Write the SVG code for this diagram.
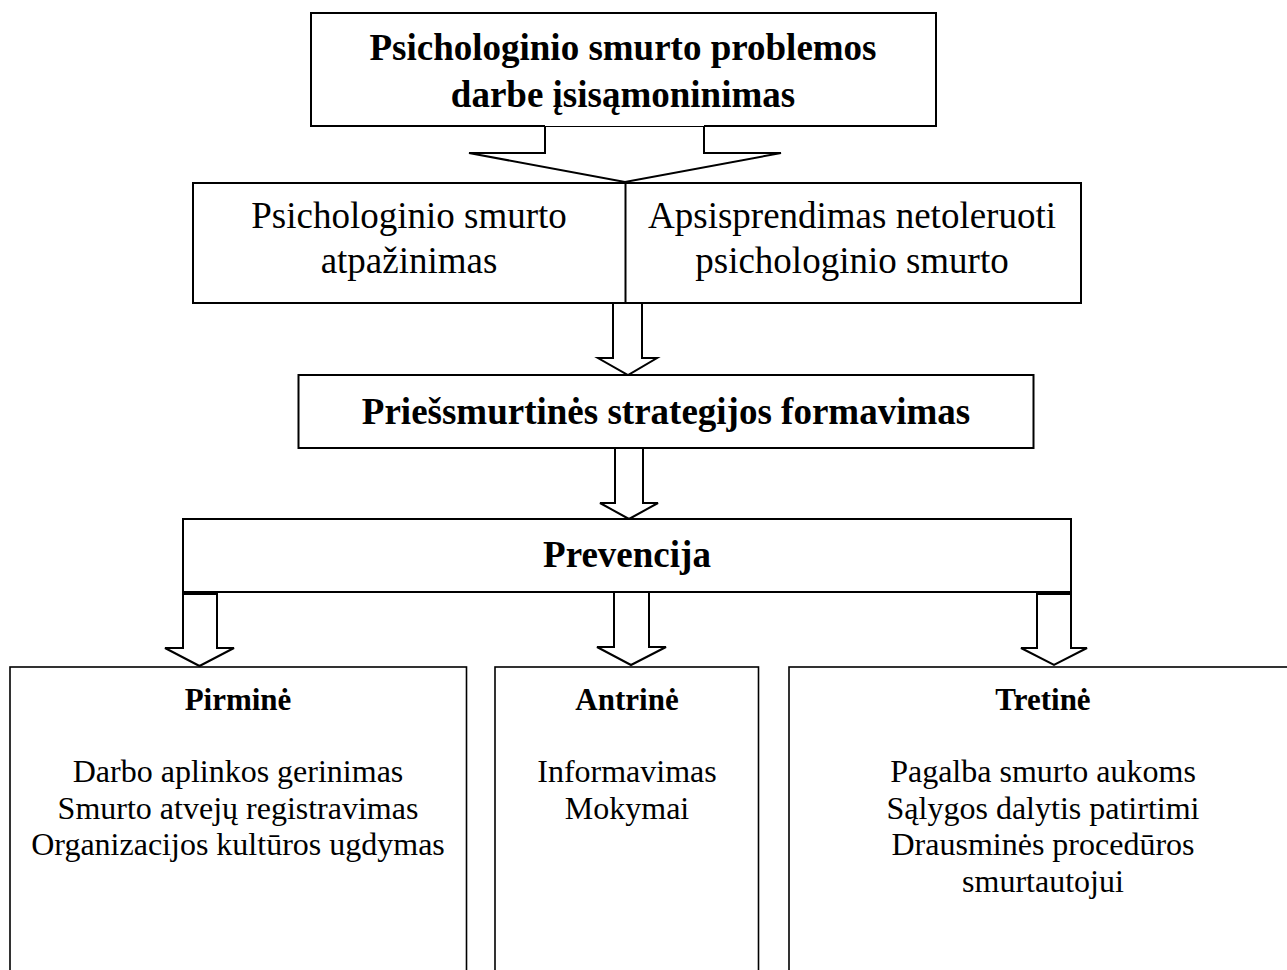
<svg xmlns="http://www.w3.org/2000/svg" width="1287" height="970" viewBox="0 0 1287 970">
<style>
.box{fill:#fff;stroke:#000;stroke-width:2}
.thin{fill:#fff;stroke:#000;stroke-width:1.6}
.arr{fill:#fff;stroke:#000;stroke-width:2;stroke-linejoin:miter}
.b{font-family:"Liberation Serif","Times New Roman",serif;font-weight:bold;font-size:37px;fill:#000;text-anchor:middle}
.r{font-family:"Liberation Serif","Times New Roman",serif;font-size:37px;fill:#000;text-anchor:middle}
.h{font-family:"Liberation Serif","Times New Roman",serif;font-weight:bold;font-size:31px;fill:#000;text-anchor:middle}
.t{font-family:"Liberation Serif","Times New Roman",serif;font-size:32px;fill:#000;text-anchor:middle}
</style>
<rect width="1287" height="970" fill="#fff"/>
<g id="connectors">
<polygon class="arr" points="545,126 545,153 469,153 625,182 781,153 704,153 704,126"/>
<polygon class="arr" points="613,303 613,358 598,358 628,375 657,358 642,358 642,303"/>
<polygon class="arr" points="615,448 615,503 600,503 629,519 658,503 643,503 643,448"/>
<polygon class="arr" points="183,592 183,648 165,648 199.5,666 234,648 217,648 217,592"/>
<polygon class="arr" points="614,592 614,647 597,647 631,665 666,647 649,647 649,592"/>
<polygon class="arr" points="1037,592 1037,648 1021,648 1054,665 1087,648 1071,648 1071,592"/>
</g>
<g id="n-top">
<path class="box" d="M545,126 L311,126 L311,13 L936,13 L936,126 L704,126"/>
<text class="b" x="623" y="60">Psichologinio smurto problemos</text>
<text class="b" x="623" y="107">darbe įsisąmoninimas</text>
</g>
<g id="n-middle">
<rect class="box" x="193" y="183" width="888" height="120"/>
<line x1="625.5" y1="183" x2="625.5" y2="303" stroke="#000" stroke-width="2"/>
<text class="r" x="409" y="228">Psichologinio smurto</text>
<text class="r" x="409" y="273">atpažinimas</text>
<text class="r" x="852" y="228">Apsisprendimas netoleruoti</text>
<text class="r" x="852" y="273">psichologinio smurto</text>
</g>
<g id="n-strategy">
<rect class="box" x="298.5" y="375" width="735" height="73"/>
<text class="b" x="666" y="424">Priešsmurtinės strategijos formavimas</text>
</g>
<g id="n-prevencija">
<rect class="box" x="183" y="519" width="888" height="73"/>
<text class="b" x="627" y="567">Prevencija</text>
<line x1="182" y1="593" x2="217" y2="593" stroke="#000" stroke-width="4"/>
<line x1="1037" y1="593" x2="1072" y2="593" stroke="#000" stroke-width="4"/>
</g>
<g id="n-pirmine">
<rect class="thin" x="10" y="667" width="456.5" height="320"/>
<text class="h" x="238" y="710">Pirminė</text>
<text class="t" x="238" y="782">Darbo aplinkos gerinimas</text>
<text class="t" x="238" y="818.5">Smurto atvejų registravimas</text>
<text class="t" x="238" y="855">Organizacijos kultūros ugdymas</text>
</g>
<g id="n-antrine">
<rect class="thin" x="495" y="667" width="263.5" height="320"/>
<text class="h" x="627" y="710">Antrinė</text>
<text class="t" x="627" y="782">Informavimas</text>
<text class="t" x="627" y="818.5">Mokymai</text>
</g>
<g id="n-tretine">
<rect class="thin" x="789" y="667" width="520" height="320"/>
<text class="h" x="1043" y="710">Tretinė</text>
<text class="t" x="1043" y="782">Pagalba smurto aukoms</text>
<text class="t" x="1043" y="818.5">Sąlygos dalytis patirtimi</text>
<text class="t" x="1043" y="855">Drausminės procedūros</text>
<text class="t" x="1043" y="891.5">smurtautojui</text>
</g>
</svg>
